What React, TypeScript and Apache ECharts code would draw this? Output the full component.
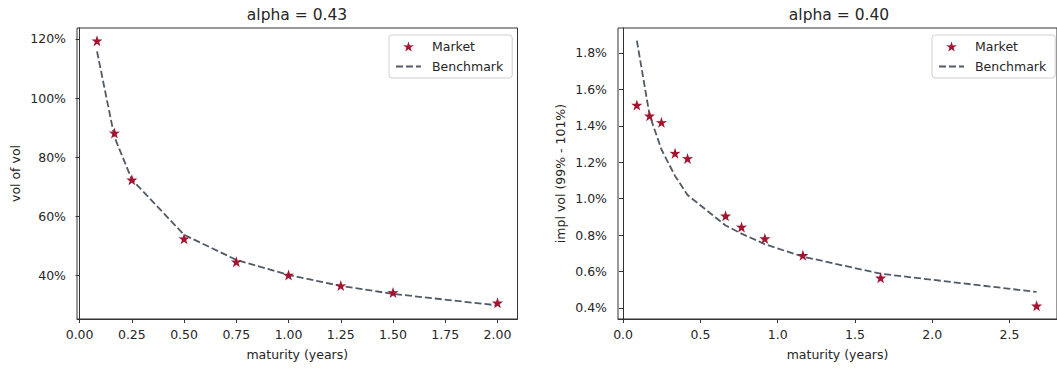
import React, { useEffect, useRef } from "react";
import * as echarts from "echarts";

const leftMaturity = [0.0833, 0.1667, 0.25, 0.5, 0.75, 1.0, 1.25, 1.5, 2.0];
const leftMarket = [119.4, 88.2, 72.3, 52.4, 44.6, 40.1, 36.5, 34.2, 30.7];
const leftBenchmark = [115.8, 86.8, 72.4, 53.7, 45.2, 40.1, 36.4, 33.7, 29.8];

const rightMaturity = [0.089, 0.171, 0.248, 0.336, 0.417, 0.663, 0.766, 0.917, 1.163, 1.666, 2.675];
const rightMarket = [1.514, 1.455, 1.419, 1.25, 1.221, 0.906, 0.845, 0.781, 0.689, 0.566, 0.412];
const rightBenchmark = [1.868, 1.46, 1.27, 1.125, 1.02, 0.853, 0.808, 0.75, 0.682, 0.588, 0.488];

const leftXTicks = [0, 0.25, 0.5, 0.75, 1.0, 1.25, 1.5, 1.75, 2.0];
const leftYTicks = [40, 60, 80, 100, 120];
const rightXTicks = [0, 0.5, 1.0, 1.5, 2.0, 2.5];
const rightYTicks = [0.4, 0.6, 0.8, 1.0, 1.2, 1.4, 1.6, 1.8];

const titles = ["alpha = 0.43", "alpha = 0.40"];
const yNames = ["vol of vol", "impl vol (99% - 101%)"];
const xName = "maturity (years)";

const STAR =
  "path://M50,0 L61.8,35.1 L97.6,34.5 L68.8,56.9 L79.4,90.5 L50,70 L20.6,90.5 L31.2,56.9 L2.4,34.5 L38.2,35.1 Z";
const FONT = "DejaVu Sans";
const TXT = "#262626";
const AX = "#333333";
const RED = "#a2142f";
const SLATE = "#505b67";

function zip(xs: number[], ys: number[]) {
  return xs.map((x, i) => [x, ys[i]]);
}

export default function App() {
  const ref = useRef<HTMLDivElement>(null);
  useEffect(() => {
    if (!ref.current) return;
    const chart = echarts.init(ref.current, undefined, { renderer: "svg" });
    const axisCommon = {
      axisLine: { show: true, lineStyle: { color: AX, width: 1 } },
      axisTick: { show: true, length: 4, inside: false, lineStyle: { color: AX } },
      splitLine: { show: false },
      nameTextStyle: { fontFamily: FONT, fontSize: 12.5, color: TXT },
    };
    const labelStyle = { fontFamily: FONT, fontSize: 12.5, color: TXT };
    const legendCommon = {
      orient: "vertical" as const,
      top: 35,
      itemWidth: 25,
      itemHeight: 10,
      itemGap: 7,
      padding: [5, 9, 5, 6],
      borderColor: "#d0d0d0",
      borderWidth: 1,
      borderRadius: 3,
      backgroundColor: "#ffffff",
      textStyle: { fontFamily: FONT, fontSize: 12.5, color: TXT, padding: [0, 0, 0, 6] },
      data: [
        { name: "Market" },
        { name: "Benchmark", itemStyle: { opacity: 0 } },
      ],
      selectedMode: false,
    };
    chart.setOption({
      animation: false,
      backgroundColor: "#ffffff",
      grid: [
        { left: 77, top: 28, width: 440.5, height: 291, show: true, borderColor: AX, borderWidth: 1, containLabel: false },
        { left: 618, top: 28, width: 443, height: 291, show: true, borderColor: AX, borderWidth: 1, containLabel: false },
      ],
      xAxis: [
        {
          ...axisCommon,
          type: "value",
          gridIndex: 0,
          min: -0.0125,
          max: 2.0958,
          name: xName,
          nameLocation: "middle",
          nameGap: 29,
          axisTick: { ...axisCommon.axisTick, customValues: leftXTicks },
          axisLabel: { ...labelStyle, margin: 9, customValues: leftXTicks, formatter: (v: number) => v.toFixed(2) },
        },
        {
          ...axisCommon,
          type: "value",
          gridIndex: 1,
          min: -0.033,
          max: 2.807,
          name: xName,
          nameLocation: "middle",
          nameGap: 29,
          axisTick: { ...axisCommon.axisTick, customValues: rightXTicks },
          axisLabel: { ...labelStyle, margin: 9, customValues: rightXTicks, formatter: (v: number) => v.toFixed(1) },
        },
      ],
      yAxis: [
        {
          ...axisCommon,
          type: "value",
          gridIndex: 0,
          min: 25.2,
          max: 123.7,
          name: yNames[0],
          nameLocation: "middle",
          nameGap: 55,
          axisTick: { ...axisCommon.axisTick, customValues: leftYTicks },
          axisLabel: { ...labelStyle, margin: 11, customValues: leftYTicks, formatter: (v: number) => `${Math.round(v)}%` },
        },
        {
          ...axisCommon,
          type: "value",
          gridIndex: 1,
          min: 0.3395,
          max: 1.937,
          name: yNames[1],
          nameLocation: "middle",
          nameGap: 51,
          axisTick: { ...axisCommon.axisTick, customValues: rightYTicks },
          axisLabel: { ...labelStyle, margin: 11, customValues: rightYTicks, formatter: (v: number) => `${v.toFixed(1)}%` },
        },
      ],
      legend: [
        { ...legendCommon, left: 389 },
        { ...legendCommon, left: 932 },
      ],
      graphic: [
        { type: "text", x: 297, y: 15, style: { text: titles[0], fontFamily: FONT, fontSize: 15.5, fill: TXT, align: "center", verticalAlign: "middle" } },
        { type: "text", x: 839, y: 15, style: { text: titles[1], fontFamily: FONT, fontSize: 15.5, fill: TXT, align: "center", verticalAlign: "middle" } },
      ],
      series: [
        {
          name: "Benchmark",
          type: "line",
          xAxisIndex: 0,
          yAxisIndex: 0,
          data: zip(leftMaturity, leftBenchmark),
          symbol: "none",
          lineStyle: { color: SLATE, width: 1.8, type: [7, 3] },
          itemStyle: { color: SLATE },
          z: 2,
        },
        {
          name: "Market",
          type: "scatter",
          xAxisIndex: 0,
          yAxisIndex: 0,
          data: zip(leftMaturity, leftMarket),
          symbol: STAR,
          symbolSize: 11,
          itemStyle: { color: RED, opacity: 1 },
          z: 3,
        },
        {
          name: "Benchmark",
          type: "line",
          xAxisIndex: 1,
          yAxisIndex: 1,
          data: zip(rightMaturity, rightBenchmark),
          symbol: "none",
          lineStyle: { color: SLATE, width: 1.8, type: [7, 3] },
          itemStyle: { color: SLATE },
          z: 2,
        },
        {
          name: "Market",
          type: "scatter",
          xAxisIndex: 1,
          yAxisIndex: 1,
          data: zip(rightMaturity, rightMarket),
          symbol: STAR,
          symbolSize: 11,
          itemStyle: { color: RED, opacity: 1 },
          z: 3,
        },
      ],
    });
    return () => chart.dispose();
  }, []);
  return (
    <div
      ref={ref}
      style={{ position: "fixed", left: 0, top: 0, width: 1057, height: 368, background: "#fff" }}
    />
  );
}
